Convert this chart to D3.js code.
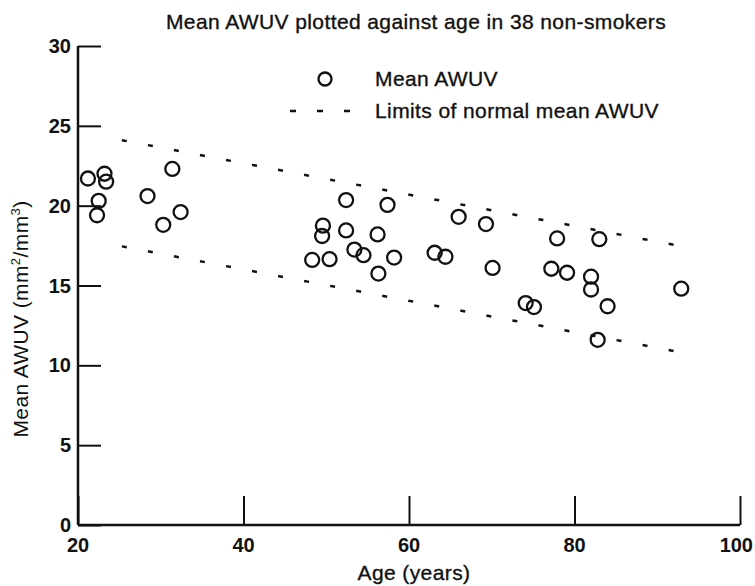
<!DOCTYPE html>
<html>
<head>
<meta charset="utf-8">
<script src="https://cdn.jsdelivr.net/npm/d3@7"></script>
<style>
  body { margin: 0; background: #fff; }
  svg text { font-family: "Liberation Sans", Arial, sans-serif; fill: #111; }
  .med { stroke: #111; stroke-width: 0.35px; letter-spacing: 0.4px; }
</style>
</head>
<body>
<svg id="chart" width="755" height="586"></svg>
<script>
var width = 755;
var height = 586;

// ages (years) and mean AWUV (mm2/mm3)
var ages = [21.2, 23.2, 23.4, 22.5, 22.3, 28.4, 31.4, 30.3, 32.4,
            52.4, 57.4, 49.6, 49.5, 52.4, 56.2, 53.4, 54.5, 48.3, 50.4, 58.2, 56.3,
            63.1, 64.4, 66.0, 69.3, 70.1,
            77.9, 83.0, 77.2, 79.1, 82.0, 82.0, 74.1, 75.1, 84.0, 82.8, 92.9];
var awuv = [21.7, 22.0, 21.5, 20.3, 19.4, 20.6, 22.3, 18.8, 19.6,
            20.35, 20.05, 18.75, 18.1, 18.45, 18.2, 17.25, 16.9, 16.6, 16.65, 16.75, 15.75,
            17.05, 16.8, 19.3, 18.85, 16.1,
            17.95, 17.9, 16.05, 15.8, 15.55, 14.75, 13.9, 13.65, 13.7, 11.6, 14.8];

// limits of normal mean AWUV
var limitAges = [25.3, 93];
var upperLimit = [24.1, 17.45];
var lowerLimit = [17.45, 10.8];

var xTicks = [20, 40, 60, 80, 100];
var yTicks = [0, 5, 10, 15, 20, 25, 30];

var svg = d3.select("#chart");

var x = d3.scaleLinear().domain([20, 100]).range([78, 740]);
var y = d3.scaleLinear().domain([0, 30]).range([525, 46]);

// title
svg.append("text")
    .attr("class", "med")
    .attr("x", 416).attr("y", 29)
    .attr("text-anchor", "middle")
    .style("font-size", "21px")
    .text("Mean AWUV plotted against age in 38 non-smokers");

// axes
var yAxis = d3.axisRight(y).tickValues(yTicks).tickSize(23).tickFormat("");
var xAxis = d3.axisTop(x).tickValues(xTicks).tickSize(29).tickFormat("");

var gy = svg.append("g").attr("transform", "translate(" + x(20) + ",0)").call(yAxis);
var gx = svg.append("g").attr("transform", "translate(0," + y(0) + ")").call(xAxis);
gy.select(".domain").attr("d", "M0," + y(0) + "V" + y(30)).attr("stroke", "#111").attr("stroke-width", 2.5);
gx.select(".domain").attr("d", "M" + x(20) + ",0H" + x(100)).attr("stroke", "#111").attr("stroke-width", 2.5);
gy.selectAll(".tick line").attr("stroke", "#111").attr("stroke-width", 2);
gx.selectAll(".tick line").attr("stroke", "#111").attr("stroke-width", 2);

svg.selectAll(".ylab").data(yTicks).enter().append("text")
    .attr("class", "ylab")
    .attr("x", 71)
    .attr("y", function(d) { return y(d) + 7; })
    .attr("text-anchor", "end")
    .style("font-size", "20px").style("font-weight", "bold")
    .text(function(d) { return d; });

// last label sits against the right edge, like in the original
svg.selectAll(".xlab").data(xTicks).enter().append("text")
    .attr("class", "xlab")
    .attr("x", function(d) { return d == 100 ? width - 2 : x(d); })
    .attr("y", y(0) + 27)
    .attr("text-anchor", function(d) { return d == 100 ? "end" : "middle"; })
    .style("font-size", "20px").style("font-weight", "bold")
    .text(function(d) { return d; });

svg.append("text")
    .attr("class", "med")
    .attr("x", 414).attr("y", 580)
    .attr("text-anchor", "middle")
    .style("font-size", "21px")
    .text("Age (years)");

var ylab = svg.append("text")
    .attr("transform", "translate(28,319) rotate(-90)")
    .attr("text-anchor", "middle")
    .style("font-size", "21px")
    .style("letter-spacing", "0.4px");
ylab.append("tspan").text("Mean AWUV (mm");
ylab.append("tspan").attr("dy", -8).style("font-size", "13px").text("2");
ylab.append("tspan").attr("dy", 8).text("/mm");
ylab.append("tspan").attr("dy", -8).style("font-size", "13px").text("3");
ylab.append("tspan").attr("dy", 8).text(")");

// limit lines
var line = d3.line()
    .x(function(d) { return x(d[0]); })
    .y(function(d) { return y(d[1]); });

[upperLimit, lowerLimit].forEach(function(lim) {
    svg.append("path")
        .datum(limitAges.map(function(a, i) { return [a, lim[i]]; }))
        .attr("d", line)
        .attr("fill", "none")
        .attr("stroke", "#111")
        .attr("stroke-width", 2.5)
        .attr("stroke-dasharray", "5,21.5");
});

// points
svg.selectAll(".pt").data(ages).enter().append("circle")
    .attr("class", "pt")
    .attr("cx", function(d) { return x(d); })
    .attr("cy", function(d, i) { return y(awuv[i]); })
    .attr("r", 7)
    .attr("fill", "none")
    .attr("stroke", "#111")
    .attr("stroke-width", 2.3);

// legend
svg.append("circle").attr("cx", 325).attr("cy", 79).attr("r", 6.5)
    .attr("fill", "none").attr("stroke", "#111").attr("stroke-width", 2.3);
svg.append("text").attr("class", "med").attr("x", 375).attr("y", 86)
    .style("font-size", "21px").text("Mean AWUV");
svg.append("line").attr("x1", 290).attr("x2", 350).attr("y1", 111).attr("y2", 111)
    .attr("stroke", "#111").attr("stroke-width", 2.3).attr("stroke-dasharray", "6,21");
svg.append("text").attr("class", "med").attr("x", 375).attr("y", 118)
    .style("font-size", "21px").text("Limits of normal mean AWUV");
</script>
</body>
</html>
